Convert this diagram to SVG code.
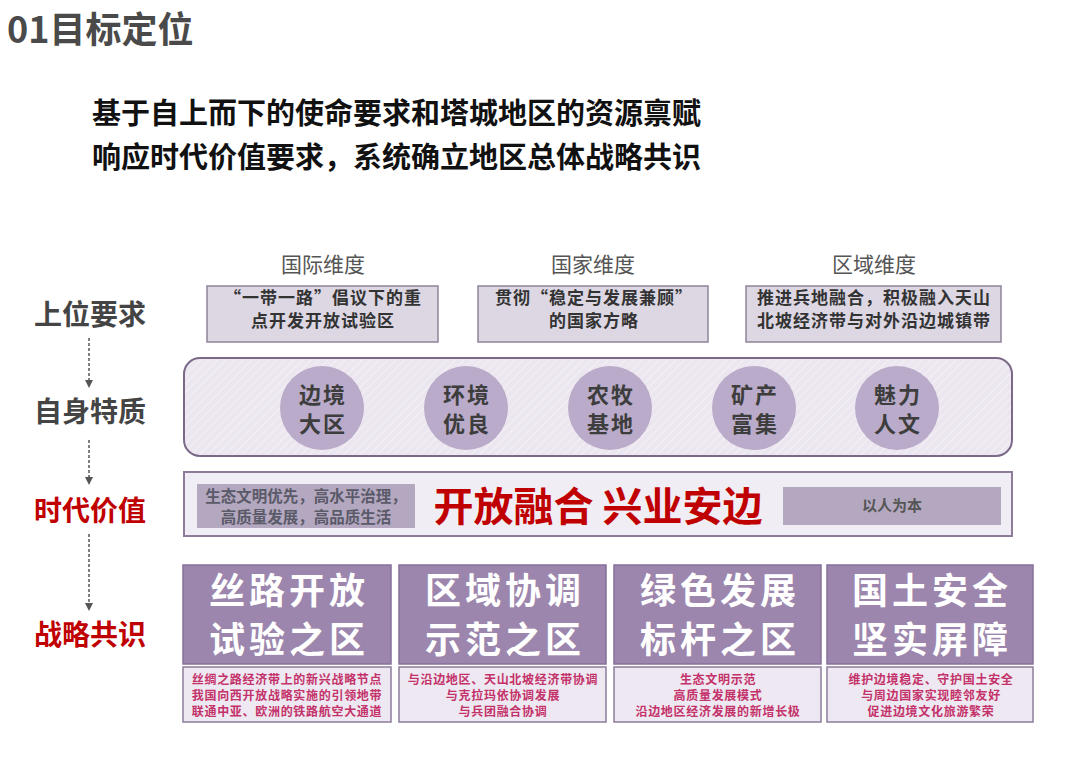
<svg xmlns="http://www.w3.org/2000/svg" width="1080" height="764" viewBox="0 0 1080 764">
<style>
text{font-family:"Noto Sans CJK SC","Noto Sans",sans-serif;}
.title{font-size:36px;font-weight:700;fill:#4a4a4a;}
.sub{font-size:29px;font-weight:700;fill:#111;}
.dim{font-size:21px;fill:#555;text-anchor:middle;}
.topbox{fill:#dcd7e3;stroke:#8f8499;stroke-width:1.5;}
.toptxt{font-size:17px;font-weight:700;fill:#333;text-anchor:middle;letter-spacing:1px;}
.side{font-size:28px;font-weight:700;fill:#444;text-anchor:middle;}
.side.red{fill:#c00000;}
.circ{fill:#b9abc9;}
.ctxt{font-size:22px;font-weight:700;fill:#3d3d3d;text-anchor:middle;letter-spacing:2px;}
.bigbox{fill:#9c86ad;stroke:#85709a;stroke-width:1.5;}
.bigtxt{font-size:36px;font-weight:700;fill:#fff;text-anchor:middle;letter-spacing:4px;}
.lowbox{fill:#ede8f1;stroke:#8d7c9a;stroke-width:1.5;}
.lowtxt{font-size:12px;font-weight:700;fill:#c4326a;text-anchor:middle;letter-spacing:0.7px;}
.dash{stroke:#555;stroke-width:1.5;stroke-dasharray:3 2;fill:none;}
</style>
<defs>
<pattern id="hatch" width="6" height="6" patternUnits="userSpaceOnUse" patternTransform="rotate(45)">
<rect width="6" height="6" fill="#ebe6ef"/>
<line x1="0" y1="0" x2="0" y2="6" stroke="#ffffff" stroke-opacity="0.6" stroke-width="1.5"/>
</pattern>
<marker id="arr" markerWidth="8" markerHeight="8" refX="4" refY="4" orient="auto" markerUnits="userSpaceOnUse">
<path d="M0,0 L8,4 L0,8 Z" fill="#555"/>
</marker>
</defs>
<rect width="1080" height="764" fill="#ffffff"/>
<g id="title">
<text class="title" x="7" y="43">01目标定位</text>
</g>
<g id="subtitle">
<text class="sub" x="92" y="124">基于自上而下的使命要求和塔城地区的资源禀赋</text>
<text class="sub" x="92" y="168">响应时代价值要求，系统确立地区总体战略共识</text>
</g>
<g id="dimensions">
<text class="dim" x="323" y="272">国际维度</text>
<text class="dim" x="593" y="272">国家维度</text>
<text class="dim" x="874" y="272">区域维度</text>
</g>
<g id="top-box-1">
<rect class="topbox" x="207" y="286" width="231" height="56"/>
<text class="toptxt" x="323" y="304">“一带一路”倡议下的重</text>
<text class="toptxt" x="323" y="327">点开发开放试验区</text>
</g>
<g id="top-box-2">
<rect class="topbox" x="478" y="286" width="230" height="56"/>
<text class="toptxt" x="594" y="304">贯彻“稳定与发展兼顾”</text>
<text class="toptxt" x="594" y="327">的国家方略</text>
</g>
<g id="top-box-3">
<rect class="topbox" x="746" y="286" width="255" height="56"/>
<text class="toptxt" x="874" y="304">推进兵地融合，积极融入天山</text>
<text class="toptxt" x="874" y="327">北坡经济带与对外沿边城镇带</text>
</g>
<g id="side-labels">
<text class="side" x="90" y="325">上位要求</text>
<text class="side" x="90" y="422">自身特质</text>
<text class="side red" x="90" y="521">时代价值</text>
<text class="side red" x="90" y="645">战略共识</text>
</g>
<g id="connectors">
<line class="dash" x1="89" y1="338" x2="89" y2="384" marker-end="url(#arr)"/>
<line class="dash" x1="89" y1="440" x2="89" y2="481" marker-end="url(#arr)"/>
<line class="dash" x1="89" y1="534" x2="89" y2="607" marker-end="url(#arr)"/>
</g>
<g id="band-traits">
<rect x="184" y="358" width="828" height="98" rx="16" fill="url(#hatch)" stroke="#7a6a88" stroke-width="2"/>
</g>
<g id="trait-1">
<circle class="circ" cx="322" cy="408" r="42"/>
<text class="ctxt" x="323" y="403">边境</text>
<text class="ctxt" x="323" y="432">大区</text>
</g>
<g id="trait-2">
<circle class="circ" cx="466" cy="408" r="42"/>
<text class="ctxt" x="467" y="403">环境</text>
<text class="ctxt" x="467" y="432">优良</text>
</g>
<g id="trait-3">
<circle class="circ" cx="610" cy="408" r="42"/>
<text class="ctxt" x="611" y="403">农牧</text>
<text class="ctxt" x="611" y="432">基地</text>
</g>
<g id="trait-4">
<circle class="circ" cx="754" cy="408" r="42"/>
<text class="ctxt" x="755" y="403">矿产</text>
<text class="ctxt" x="755" y="432">富集</text>
</g>
<g id="trait-5">
<circle class="circ" cx="897" cy="408" r="42"/>
<text class="ctxt" x="898" y="403">魅力</text>
<text class="ctxt" x="898" y="432">人文</text>
</g>
<g id="band-values">
<rect x="184" y="472" width="828" height="64" fill="#f1edf4" stroke="#8d7c9a" stroke-width="2"/>
<rect x="197" y="484" width="218" height="44" fill="#b4a8c0"/>
<text x="306" y="502" font-size="15.5" font-weight="700" fill="#5a5a68" text-anchor="middle">生态文明优先，高水平治理，</text>
<text x="306" y="523" font-size="15.5" font-weight="700" fill="#5a5a68" text-anchor="middle">高质量发展，高品质生活</text>
<text x="598" y="521" font-size="40" font-weight="700" fill="#c00000" text-anchor="middle">开放融合 兴业安边</text>
<rect x="783" y="487" width="218" height="38" fill="#b4a8c0"/>
<text x="892" y="511" font-size="15" font-weight="700" fill="#555" text-anchor="middle">以人为本</text>
</g>
<g id="consensus-1">
<rect class="bigbox" x="183" y="565" width="208" height="99"/>
<text class="bigtxt" x="289" y="604">丝路开放</text>
<text class="bigtxt" x="289" y="653">试验之区</text>
<rect class="lowbox" x="183" y="667" width="208" height="55"/>
<text class="lowtxt" x="287" y="684">丝绸之路经济带上的新兴战略节点</text>
<text class="lowtxt" x="287" y="700">我国向西开放战略实施的引领地带</text>
<text class="lowtxt" x="287" y="716">联通中亚、欧洲的铁路航空大通道</text>
</g>
<g id="consensus-2">
<rect class="bigbox" x="399" y="565" width="207" height="99"/>
<text class="bigtxt" x="505" y="604">区域协调</text>
<text class="bigtxt" x="505" y="653">示范之区</text>
<rect class="lowbox" x="399" y="667" width="207" height="55"/>
<text class="lowtxt" x="503" y="684">与沿边地区、天山北坡经济带协调</text>
<text class="lowtxt" x="503" y="700">与克拉玛依协调发展</text>
<text class="lowtxt" x="503" y="716">与兵团融合协调</text>
</g>
<g id="consensus-3">
<rect class="bigbox" x="614" y="565" width="207" height="99"/>
<text class="bigtxt" x="720" y="604">绿色发展</text>
<text class="bigtxt" x="720" y="653">标杆之区</text>
<rect class="lowbox" x="614" y="667" width="207" height="55"/>
<text class="lowtxt" x="718" y="684">生态文明示范</text>
<text class="lowtxt" x="718" y="700">高质量发展模式</text>
<text class="lowtxt" x="718" y="716">沿边地区经济发展的新增长极</text>
</g>
<g id="consensus-4">
<rect class="bigbox" x="827" y="565" width="206" height="99"/>
<text class="bigtxt" x="932" y="604">国土安全</text>
<text class="bigtxt" x="932" y="653">坚实屏障</text>
<rect class="lowbox" x="827" y="667" width="206" height="55"/>
<text class="lowtxt" x="931" y="684">维护边境稳定、守护国土安全</text>
<text class="lowtxt" x="931" y="700">与周边国家实现睦邻友好</text>
<text class="lowtxt" x="931" y="716">促进边境文化旅游繁荣</text>
</g>
</svg>
